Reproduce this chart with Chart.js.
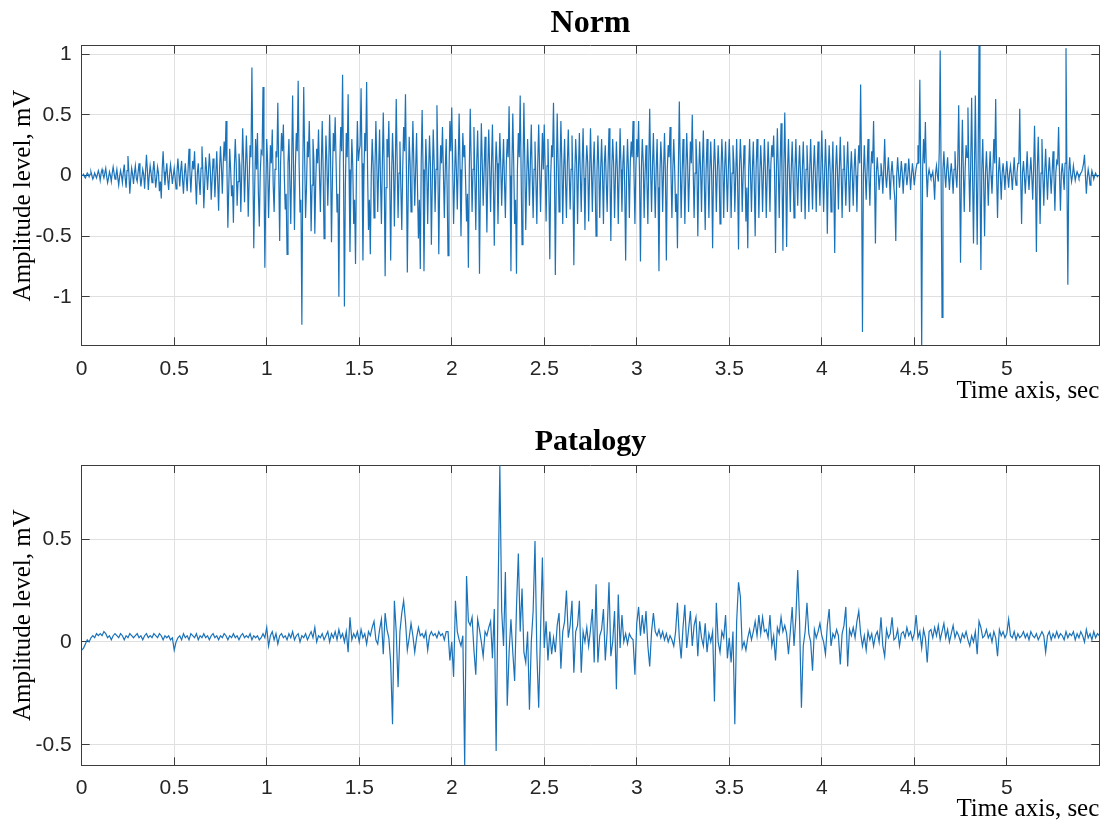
<!DOCTYPE html>
<html>
<head>
<meta charset="utf-8">
<script src="https://cdn.jsdelivr.net/npm/chart.js@4.4.1/dist/chart.umd.min.js"></script>
<style>
  html, body { margin: 0; padding: 0; background: #fff; }
  #wrap { position: relative; width: 1106px; height: 824px; }
  canvas { position: absolute; left: 0; }
  #normChart { top: 0; }
  #patalogyChart { top: 412px; }
</style>
</head>
<body>
<div id="wrap">
  <canvas id="normChart" width="1106" height="412"></canvas>
  <canvas id="patalogyChart" width="1106" height="412"></canvas>
</div>
<script>
// Sample spacing of each recording, seconds
const normStep = 0.005;
const patalogyStep = 0.01;
const xTicks = [0, 0.5, 1, 1.5, 2, 2.5, 3, 3.5, 4, 4.5, 5];
const normYTicks = [-1, -0.5, 0, 0.5, 1];
const patalogyYTicks = [-0.5, 0, 0.5];

// Norm signal, mV (20 samples per row = 0.1 s)
const normAmplitude = [
  0, 0.0, 0.01, -0.01, -0.02, 0.0, 0.02, 0.01, -0.01, 0.01, 0.03, 0.0, -0.03, -0.01, 0.02, 0.0, -0.02, 0.01, 0.04, 0.01,
  -0.04, 0.02, 0.05, 0.01, -0.02, 0.02, 0.06, -0.01, -0.06, -0.02, 0.03, 0.0, -0.05, 0.02, 0.07, 0.02, -0.03, 0.0, 0.05, -0.02,
  -0.08, -0.01, 0.04, 0.0, -0.06, 0.03, 0.09, -0.02, -0.1, 0.04, 0.16, 0.02, -0.15, -0.03, 0.06, 0.01, -0.07, 0.02, 0.08, -0.02,
  -0.05, 0.03, 0.1, 0.0, -0.09, -0.02, 0.05, 0.01, -0.11, 0.03, 0.17, 0.04, -0.12, 0.0, 0.08, 0.02, -0.06, 0.03, 0.12, 0.01,
  -0.1, -0.02, 0.07, 0.02, -0.13, -0.05, -0.19, 0.05, 0.2, 0.03, -0.08, 0.02, 0.1, -0.03, -0.12, 0.01, 0.09, 0.02, -0.07, 0.0,
  0.06, -0.02, -0.11, 0.03, 0.14, 0.02, -0.09, 0.04, 0.12, -0.03, -0.15, 0.01, 0.1, -0.02, -0.13, 0.05, 0.22, 0.03, -0.14, 0.02,
  0.12, 0.05, 0.2, -0.04, -0.24, 0.02, 0.1, -0.05, -0.16, 0.06, 0.24, 0.03, -0.27, -0.06, 0.15, 0.04, -0.12, 0.02, 0.18, 0.05,
  -0.2, -0.03, 0.14, 0.06, -0.18, 0.02, 0.2, -0.04, -0.29, 0.05, 0.24, 0.08, -0.15, 0.1, 0.28, 0.12, 0.45, 0.05, -0.43, -0.1,
  0.22, 0.05, -0.17, -0.08, -0.39, 0.06, 0.3, 0.1, -0.25, -0.05, 0.18, 0.08, -0.3, 0.02, 0.39, 0.12, -0.22, 0.05, 0.33, 0.08,
  -0.34, -0.05, 0.25, 0.15, 0.89, 0.1, -0.6, -0.1, 0.3, 0.05, 0.35, -0.15, -0.42, 0.02, 0.2, 0.18, 0.73, 0.05, -0.76, -0.12,
  0.3, 0.1, -0.35, -0.05, 0.25, 0.1, 0.38, -0.08, -0.3, 0.05, 0.2, 0.15, 0.6, 0.02, -0.54, 0.1, 0.35, 0.2, 0.42, 0.0,
  -0.28, -0.15, -0.65, 0.1, 0.3, -0.05, -0.4, 0.12, 0.66, 0.05, -0.45, 0.08, 0.35, 0.2, 0.78, 0.1, -0.3, -0.2, -1.23, 0.05,
  0.73, 0.15, -0.35, -0.1, 0.28, 0.15, 0.45, 0.05, -0.46, -0.08, 0.3, 0.12, -0.48, -0.05, 0.22, 0.1, 0.38, 0.02, -0.3, 0.08,
  0.45, 0.05, -0.52, -0.1, 0.33, 0.12, -0.25, 0.05, 0.5, 0.15, -0.55, -0.05, 0.35, 0.2, 0.48, 0.1, -0.3, -0.15, -1.0, 0.1,
  0.4, 0.2, 0.83, 0.05, -1.08, -0.1, 0.35, 0.15, 0.67, 0.05, -0.63, -0.1, 0.3, 0.08, -0.4, -0.2, -0.73, 0.05, 0.45, 0.12,
  0.2, 0.25, 0.72, 0.1, -0.7, -0.05, 0.35, 0.2, 0.77, 0.05, -0.45, -0.2, -0.65, 0.0, 0.3, 0.1, -0.35, 0.05, 0.45, 0.1,
  -0.3, 0.05, 0.38, -0.05, -0.4, 0.1, 0.52, 0.05, -0.83, -0.1, 0.3, 0.15, 0.45, -0.05, -0.7, 0.0, 0.35, 0.1, -0.42, 0.05,
  0.63, 0.1, -0.35, 0.02, 0.28, -0.1, -0.45, 0.05, 0.4, 0.2, 0.67, 0.05, -0.8, -0.1, 0.32, 0.1, -0.3, 0.05, 0.45, 0.1,
  -0.25, 0.05, 0.35, -0.1, -0.52, -0.2, -0.77, 0.1, 0.54, 0.05, -0.79, -0.1, 0.3, 0.05, -0.4, 0.02, 0.33, 0.08, -0.57, -0.05,
  0.38, 0.1, -0.3, 0.05, 0.58, 0.1, -0.65, -0.05, 0.25, 0.1, 0.4, 0.02, -0.35, 0.05, 0.3, -0.1, -0.66, 0.0, 0.45, 0.2,
  0.56, 0.1, -0.4, -0.05, 0.3, 0.05, -0.28, 0.1, 0.51, 0.05, -0.5, -0.02, 0.35, 0.15, 0.25, -0.05, -0.38, -0.15, -0.76, 0.05,
  0.55, 0.12, -0.3, 0.05, 0.4, -0.02, -0.45, 0.1, 0.37, 0.0, -0.81, -0.05, 0.43, 0.1, -0.25, 0.05, 0.32, -0.02, -0.47, 0.05,
  0.38, 0.05, -0.3, 0.1, 0.42, -0.05, -0.58, 0.0, 0.28, 0.1, -0.4, 0.02, 0.35, 0.08, -0.25, 0.05, 0.3, -0.05, -0.35, 0.1,
  0.3, 0.15, 0.57, 0.0, -0.79, 0.05, 0.51, 0.1, -0.4, -0.2, -0.81, 0.05, 0.35, 0.15, 0.66, 0.02, -0.57, 0.05, 0.6, 0.1,
  -0.45, -0.05, 0.3, 0.05, -0.25, 0.1, 0.42, 0.0, -0.35, 0.05, 0.28, -0.05, -0.4, 0.1, 0.42, 0.05, -0.3, 0.02, 0.35, 0.05,
  0.42, 0.05, -0.38, 0.08, 0.3, -0.1, -0.69, 0.0, 0.25, 0.15, 0.6, 0.05, -0.82, -0.05, 0.51, 0.1, -0.3, 0.05, 0.45, 0.1,
  -0.4, 0.05, 0.3, -0.05, -0.35, 0.1, 0.38, 0.02, -0.28, 0.05, 0.33, -0.05, -0.74, 0.0, 0.3, 0.1, -0.4, 0.05, 0.35, 0.0,
  -0.3, 0.1, 0.39, -0.02, -0.45, 0.05, 0.25, 0.1, -0.38, 0.0, 0.39, 0.05, -0.3, 0.08, 0.28, -0.05, -0.5, 0.02, 0.33, 0.05,
  -0.35, 0.05, 0.3, 0.0, -0.4, 0.1, 0.25, -0.05, -0.3, 0.08, 0.39, 0.02, -0.54, 0.05, 0.3, 0.1, -0.35, 0.0, 0.28, 0.05,
  -0.4, 0.02, 0.39, 0.05, -0.3, 0.1, 0.25, -0.1, -0.7, 0.0, 0.3, 0.05, -0.35, 0.1, 0.28, 0.15, 0.45, 0.02, -0.4, 0.05,
  0.3, 0.15, 0.45, 0.0, -0.71, 0.05, 0.3, 0.1, -0.35, 0.02, 0.25, -0.05, -0.4, 0.1, 0.55, 0.05, -0.3, 0.08, 0.35, 0.0,
  -0.35, 0.05, 0.3, -0.1, -0.79, 0.0, 0.28, 0.1, -0.3, 0.05, 0.35, 0.0, -0.7, 0.05, 0.25, 0.15, 0.4, 0.02, -0.35, 0.05,
  0.3, 0.05, -0.3, -0.15, -0.6, 0.05, 0.61, 0.1, -0.35, 0.0, 0.3, 0.05, -0.4, 0.02, 0.35, 0.1, -0.3, 0.0, 0.28, 0.1,
  0.5, 0.05, -0.35, 0.02, 0.3, 0.1, -0.5, 0.0, 0.28, 0.05, -0.3, 0.1, 0.37, -0.05, -0.45, 0.05, 0.3, 0.02, -0.35, 0.05,
  0.28, 0.0, -0.6, 0.05, 0.3, 0.08, -0.3, 0.02, 0.25, 0.05, -0.4, 0.0, 0.3, 0.1, -0.35, 0.05, 0.28, 0.0, -0.3, 0.05,
  0.3, 0.05, -0.35, 0.02, 0.25, 0.1, -0.3, 0.0, 0.3, -0.05, -0.61, 0.05, 0.3, 0.1, -0.3, 0.0, 0.25, 0.05, -0.38, -0.1,
  -0.6, 0.05, 0.3, 0.0, -0.3, 0.05, 0.28, -0.05, -0.5, 0.05, 0.3, 0.1, -0.35, 0.0, 0.25, 0.05, -0.3, 0.02, 0.3, 0.05,
  -0.35, 0.0, 0.28, 0.05, -0.3, 0.1, 0.25, 0.15, 0.33, 0.0, -0.64, 0.05, 0.39, 0.05, -0.35, 0.1, 0.43, 0.0, -0.62, 0.05,
  0.52, 0.0, -0.59, 0.05, 0.3, 0.0, -0.3, 0.05, 0.28, 0.02, -0.35, 0.05, 0.3, 0.0, -0.25, 0.05, 0.25, 0.0, -0.3, 0.05,
  0.28, 0.0, -0.36, 0.05, 0.25, 0.02, -0.3, 0.05, 0.3, 0.0, -0.28, 0.05, 0.25, 0.02, -0.3, 0.05, 0.28, 0.0, -0.25, 0.05,
  0.37, 0.05, -0.3, 0.0, 0.3, 0.05, -0.48, 0.02, 0.25, 0.05, -0.3, 0.0, 0.28, -0.1, -0.64, 0.05, 0.25, 0.02, -0.28, 0.05,
  0.32, 0.02, -0.35, 0.05, 0.25, 0.0, -0.25, 0.05, 0.28, 0.0, -0.3, 0.02, 0.2, 0.0, -0.25, 0.05, 0.22, 0.0, -0.3, 0.05,
  0.25, 0.1, 0.75, 0.05, -1.29, 0.0, 0.25, 0.02, -0.2, 0.05, 0.3, 0.0, -0.25, 0.05, 0.2, 0.1, 0.45, 0.0, -0.56, 0.02,
  0.15, 0.02, -0.12, 0.0, 0.1, 0.02, -0.15, 0.05, 0.3, 0.0, -0.1, 0.02, 0.15, 0.0, -0.2, 0.02, 0.12, 0.0, -0.1, -0.2,
  -0.54, 0.0, 0.15, 0.02, -0.1, 0.0, 0.12, 0.02, -0.15, 0.0, 0.1, 0.02, -0.08, 0.0, 0.14, 0.02, -0.12, 0.0, 0.1, 0.02,
  -0.08, 0.0, 0.06, 0.1, 0.25, 0.1, 0.79, 0.0, -1.45, 0.05, 0.3, 0.1, 0.44, 0.05, -0.18, 0.0, 0.05, 0.01, -0.02, 0.0,
  0.03, -0.05, -0.2, 0.02, 0.08, 0.0, -0.05, 0.2, 1.03, 0.0, -1.17, 0.05, 0.2, 0.02, -0.1, 0.05, 0.15, 0.0, -0.12, 0.02,
  0.1, 0.0, -0.15, 0.05, 0.2, 0.0, -0.1, 0.1, 0.58, 0.0, -0.72, 0.05, 0.46, 0.05, -0.3, 0.05, 0.25, 0.15, 0.56, 0.05,
  -0.3, 0.1, 0.64, 0.0, -0.56, 0.05, 0.66, 0.0, -0.57, 0.1, 1.1, 0.0, -0.78, 0.05, 0.3, -0.05, -0.5, 0.02, 0.2, 0.0,
  -0.25, 0.02, 0.2, 0.0, -0.15, 0.05, 0.3, 0.1, 0.63, 0.0, -0.35, 0.02, 0.15, 0.0, -0.2, 0.02, 0.1, 0.0, -0.12, 0.02,
  0.12, 0.0, -0.1, 0.02, 0.08, 0.0, -0.12, 0.02, 0.15, 0.0, -0.08, 0.02, 0.1, 0.1, 0.55, 0.0, -0.4, 0.02, 0.12, 0.0,
  -0.15, 0.02, 0.2, 0.0, -0.12, 0.02, 0.15, 0.0, -0.2, 0.05, 0.41, 0.0, -0.63, 0.05, 0.32, 0.0, -0.4, 0.02, 0.3, 0.0,
  -0.25, 0.02, 0.22, 0.0, -0.2, 0.02, 0.15, 0.0, -0.15, 0.02, 0.2, 0.0, -0.29, 0.02, 0.12, 0.1, 0.4, 0.0, -0.29, 0.02,
  0.1, 0.0, -0.12, 0.1, 1.05, 0.0, -0.9, 0.02, 0.15, 0.02, -0.05, 0.0, 0.08, 0.02, -0.04, 0.0, 0.03, 0.01, -0.02, 0.0,
  0.02, 0.03, 0.06, 0.1, 0.17, 0.0, -0.15, -0.02, 0.05, 0.0, -0.08, -0.02, 0.04, 0.01, -0.03, 0.0, 0.02, 0.0, -0.01, 0.0,
  0
];

// Patalogy signal, mV (10 samples per row = 0.1 s)
const patalogyAmplitude = [
  -0.04, -0.03, -0.01, 0.01, 0.0, 0.02, 0.03, 0.02, 0.04, 0.03,
  0.04, 0.03, 0.05, 0.04, 0.02, 0.03, 0.01, 0.03, 0.04, 0.03,
  0.02, 0.04, 0.03, 0.01, 0.03, 0.02, 0.04, 0.03, 0.02, 0.03,
  0.04, 0.02, 0.03, 0.01, 0.03, 0.04, 0.02, 0.03, 0.02, 0.04,
  0.03, 0.02, 0.04, 0.03, 0.01, 0.03, 0.02, 0.03, 0.01, 0.02,
  -0.04, 0.0, 0.02, 0.03, 0.01, 0.04, 0.02, 0.03, 0.01, 0.04,
  0.03, 0.02, 0.04, 0.01, 0.03, 0.02, 0.04, 0.02, 0.03, 0.01,
  0.03, 0.04, 0.02, 0.03, 0.01, 0.03, 0.02, 0.04, 0.03, 0.01,
  0.03, 0.02, 0.04, 0.02, 0.03, 0.01, 0.03, 0.04, 0.02, 0.03,
  0.02, 0.04, 0.01, 0.03, 0.02, 0.03, 0.01, 0.02, 0.04, 0.02,
  0.07, -0.02, 0.03, 0.05, 0.01, 0.04, -0.01, 0.03, 0.04, 0.02,
  0.03, 0.01, 0.04, 0.02, 0.05, 0.01, 0.03, 0.04, 0.0, 0.03,
  0.02, 0.04, 0.01, 0.03, 0.05, 0.02, 0.07, 0.0, 0.03, 0.02,
  0.04, 0.01, 0.03, 0.05, 0.0, 0.04, 0.02, 0.05, 0.01, 0.06,
  0.02, 0.04, 0.0, 0.05, -0.05, 0.12, 0.01, 0.04, 0.02, 0.05,
  0.0, 0.06, 0.02, 0.04, -0.01, 0.05, 0.03, 0.07, 0.1, 0.01,
  -0.01, 0.06, 0.11, -0.06, 0.14, 0.06, 0.02, -0.1, -0.4, 0.2,
  0.05, -0.22, 0.05, 0.14, 0.2, 0.1, -0.04, 0.02, 0.09, 0.03,
  -0.05, 0.02, 0.07, 0.03, 0.04, 0.02, 0.05, -0.04, 0.03, 0.05,
  0.03, 0.04, 0.02, 0.05, 0.03, 0.04, 0.01, 0.05, 0.05, -0.09,
  0.0, -0.17, 0.2, 0.05, 0.01, -0.02, 0.03, -0.6, 0.32, 0.1,
  0.08, 0.12, -0.04, -0.16, 0.11, 0.06, 0.0, -0.07, 0.05, 0.03,
  0.07, 0.1, -0.08, 0.16, -0.53, 0.2, 0.86, 0.15, -0.02, 0.34,
  -0.31, -0.05, 0.11, -0.05, -0.19, 0.17, 0.43, 0.05, 0.26, -0.05,
  -0.1, 0.05, -0.33, 0.0, 0.15, 0.49, -0.05, -0.32, 0.05, 0.41,
  -0.03, 0.1, -0.09, 0.05, -0.06, 0.02, -0.05, 0.08, 0.14, -0.13,
  0.05, 0.1, 0.25, 0.02, 0.08, 0.2, -0.15, 0.05, 0.08, 0.2,
  -0.15, 0.05, 0.0, 0.07, -0.02, 0.06, 0.16, -0.1, 0.28, -0.1,
  0.03, 0.06, 0.16, -0.09, 0.05, 0.29, -0.07, 0.0, 0.15, -0.23,
  0.23, -0.03, 0.13, 0.0, 0.04, -0.01, 0.04, 0.02, 0.01, -0.16,
  0.09, 0.17, 0.03, 0.13, 0.04, 0.15, -0.02, -0.12, 0.05, 0.14,
  0.05, 0.03, 0.06, 0.02, 0.05, 0.01, 0.04, 0.0, 0.03, 0.01,
  -0.02, 0.05, 0.19, 0.02, -0.08, 0.07, 0.18, -0.03, 0.06, 0.15,
  -0.02, 0.08, 0.12, -0.07, 0.1, 0.02, -0.02, 0.09, -0.05, 0.04,
  0.0, 0.05, -0.29, 0.19, 0.0, -0.05, 0.05, 0.02, 0.13, -0.08,
  0.02, -0.1, 0.05, -0.4, 0.1, 0.29, 0.22, -0.03, 0.0, -0.04,
  0.02, 0.06, 0.01, 0.05, 0.1, 0.03, 0.13, 0.04, 0.12, 0.05,
  0.06, 0.02, 0.13, -0.02, 0.03, -0.09, 0.07, 0.04, 0.12, 0.05,
  0.08, 0.04, -0.06, 0.05, 0.17, -0.02, 0.12, 0.35, 0.1, -0.32,
  -0.02, 0.05, 0.19, 0.04, 0.0, -0.14, 0.06, 0.02, 0.05, 0.09,
  0.03, 0.0, -0.06, 0.08, 0.16, -0.02, 0.04, 0.02, 0.06, 0.03,
  -0.11, 0.04, 0.08, 0.17, -0.12, 0.06, 0.03, 0.07, 0.02, 0.1,
  0.15, 0.04, -0.02, 0.03, -0.04, 0.05, 0.01, 0.04, -0.02, 0.03,
  0.05, 0.0, 0.12, -0.02, -0.07, 0.06, 0.02, 0.04, 0.12, 0.01,
  0.02, 0.06, -0.02, 0.04, 0.05, 0.02, 0.07, 0.03, 0.05, 0.01,
  0.04, 0.13, 0.02, 0.05, -0.03, 0.06, 0.02, -0.1, 0.05, 0.06,
  0.02, 0.07, 0.03, 0.08, 0.01, 0.05, 0.09, 0.02, 0.06, 0.0,
  0.04, 0.08, 0.02, 0.05, 0.03, 0.0, 0.04, 0.02, 0.05, 0.01,
  -0.02, 0.03, 0.0, 0.05, -0.06, 0.1, 0.07, 0.02, 0.03, 0.06,
  0.02, 0.04, 0.0, 0.05, 0.02, -0.07, 0.06, 0.03, 0.05, 0.02,
  0.04, 0.11, 0.03, 0.02, 0.05, 0.01, 0.04, 0.02, 0.03, 0.05,
  0.02, 0.04, 0.01, 0.05, 0.03, 0.02, 0.04, 0.01, 0.03, 0.05,
  0.03, -0.05, 0.03, 0.05, 0.01, 0.04, 0.02, 0.05, 0.02, 0.04,
  0.03, 0.01, 0.05, 0.02, 0.04, 0.03, 0.05, 0.01, 0.04, 0.02,
  0.05, 0.03, 0.0, 0.06, 0.02, 0.04, 0.01, 0.05, 0.02, 0.04,
  0.03
];

const lineColor = "#1a72b8";
const gridColor = "#e0e0e0";
const axisColor = "#3c3c3c";
const sansFont = "'Liberation Sans', Arial, sans-serif";
const serifFont = "'Liberation Serif', 'Times New Roman', serif";
const xMax = 5.5;

function toPoints(values, step) {
  return values.map((v, i) => ({ x: +(i * step).toFixed(3), y: v }));
}

// Replace the generated ticks with the ones
function useTicks(list) {
  return function (scale) {
    scale.ticks = list.map((v) => ({ value: v }));
  };
}

function buildChart(canvasId, cfg) {
  const ctx = document.getElementById(canvasId).getContext("2d");

  const tickGrid = { color: gridColor, tickLength: -8, tickColor: axisColor };
  const edgeGrid = { drawOnChartArea: false, tickLength: -8, tickColor: axisColor };
  const tickFont = { family: sansFont, size: 21 };

  return new Chart(ctx, {
    type: "line",
    data: {
      datasets: [
        {
          data: toPoints(cfg.values, cfg.step),
          borderColor: lineColor,
          borderWidth: 1.2,
          pointRadius: 0,
          tension: 0,
        },
      ],
    },
    options: {
      responsive: false,
      animation: false,
      devicePixelRatio: 1,
      layout: { padding: { left: 0, right: 6.7, top: 0, bottom: 0 } },
      plugins: {
        legend: { display: false },
        tooltip: { enabled: false },
        title: {
          display: true,
          fullSize: false,
          text: cfg.title,
          color: "#000",
          font: { family: serifFont, size: cfg.titleSize, weight: "bold" },
          padding: cfg.titlePadding,
        },
      },
      scales: {
        x: {
          type: "linear",
          position: "bottom",
          min: 0,
          max: xMax,
          afterBuildTicks: useTicks(xTicks),
          afterFit: (s) => { s.height = cfg.xAxisHeight; },
          ticks: {
            font: tickFont,
            color: "#262626",
            padding: cfg.xTickPadding,
            maxRotation: 0,
            minRotation: 0,
            autoSkip: false,
            callback: (v) => String(v),
          },
          grid: tickGrid,
          border: { color: axisColor, width: 1 },
          title: {
            display: true,
            text: "Time axis, sec",
            align: "end",
            color: "#000",
            font: { family: serifFont, size: 25 },
            padding: { top: 0, bottom: cfg.xTitleBottom },
          },
        },
        x2: {
          type: "linear",
          axis: "x",
          position: "top",
          min: 0,
          max: xMax,
          afterBuildTicks: useTicks(xTicks),
          afterFit: (s) => { s.height = 0; },
          ticks: { display: false },
          grid: edgeGrid,
          border: { color: axisColor, width: 1 },
        },
        y: {
          type: "linear",
          position: "left",
          min: cfg.yMin,
          max: cfg.yMax,
          afterBuildTicks: useTicks(cfg.yTicks),
          afterFit: (s) => { s.width = 81.7; },
          ticks: {
            font: tickFont,
            color: "#262626",
            padding: 18,
            callback: (v) => String(v),
          },
          grid: tickGrid,
          border: { color: axisColor, width: 1 },
          title: {
            display: true,
            text: "Amplitude level, mV",
            color: "#000",
            font: { family: serifFont, size: 25 },
            padding: { top: 8, bottom: 0 },
          },
        },
        y2: {
          type: "linear",
          axis: "y",
          position: "right",
          min: cfg.yMin,
          max: cfg.yMax,
          afterBuildTicks: useTicks(cfg.yTicks),
          afterFit: (s) => { s.width = 0; },
          ticks: { display: false },
          grid: edgeGrid,
          border: { color: axisColor, width: 1 },
        },
      },
    },
  });
}

buildChart("normChart", {
  title: "Norm",
  titleSize: 32,
  values: normAmplitude,
  step: normStep,
  yMin: -1.4,
  yMax: 1.07,
  yTicks: normYTicks,
  titlePadding: { top: 4.8, bottom: 2.5 },
  xAxisHeight: 66.7,
  xTickPadding: 19.3,
  xTitleBottom: 5.3,
});

buildChart("patalogyChart", {
  title: "Patalogy",
  titleSize: 30,
  values: patalogyAmplitude,
  step: patalogyStep,
  yMin: -0.6,
  yMax: 0.86,
  yTicks: patalogyYTicks,
  titlePadding: { top: 12.5, bottom: 4.5 },
  xAxisHeight: 58.7,
  xTickPadding: 18.1,
  xTitleBottom: 0,
});
</script>
</body>
</html>
